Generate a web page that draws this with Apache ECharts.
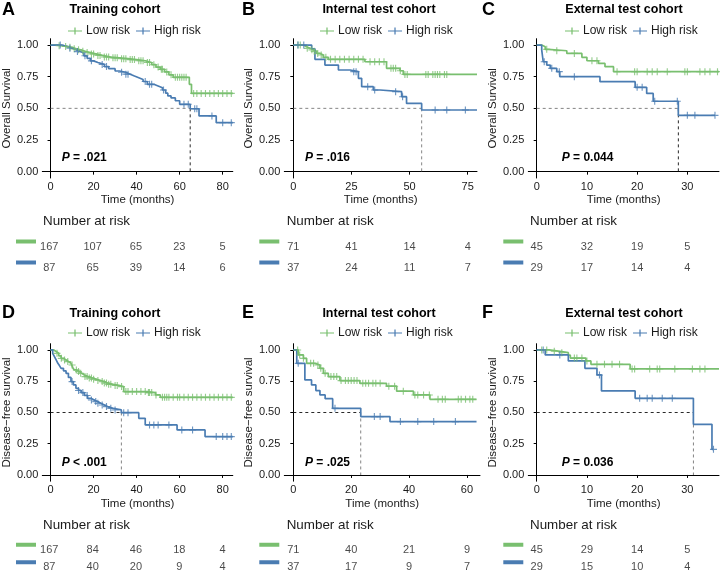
<!DOCTYPE html>
<html>
<head>
<meta charset="utf-8">
<script src="https://cdn.jsdelivr.net/npm/echarts@6/dist/echarts.min.js"></script>
<style>
  html, body { margin: 0; padding: 0; background: #fff; }
  #chart { width: 720px; height: 576px; }
</style>
</head>
<body>
<div id="chart"></div>
<script>
// ---- A: training cohort, overall survival ----
const tLowA = [0, 3, 6, 8, 10, 12, 14, 16, 18, 21, 24, 28, 32, 36, 40, 44, 47, 49, 51, 53, 55, 57, 64.5, 65.5, 84.7];
const sLowA = [1, 0.994, 0.988, 0.982, 0.970, 0.963, 0.951, 0.942, 0.930, 0.918, 0.905, 0.899, 0.892, 0.885, 0.876, 0.862, 0.845, 0.826, 0.808, 0.788, 0.765, 0.745, 0.69, 0.618, 0.618];
const cLowA = [4, 7, 9, 11, 13, 15, 17, 19, 20, 22, 23, 25, 26, 27, 29, 30, 31, 33, 34, 35, 37, 38, 39, 41, 42, 43, 45, 46, 48, 50, 51.5, 52, 54, 56, 58, 59, 60, 61, 62, 63, 66.5, 68, 70, 72, 74, 76, 78, 80, 82, 84];
const tHighA = [0, 5, 8, 10, 12, 14, 15.5, 17, 18.5, 20, 22, 25, 27, 30, 32, 35, 37, 39, 41, 43, 45, 48, 50, 52, 53.5, 54.5, 56, 58, 60, 64.9, 69, 77, 84.7];
const sHighA = [1, 0.988, 0.975, 0.962, 0.948, 0.935, 0.915, 0.895, 0.875, 0.862, 0.847, 0.83, 0.813, 0.795, 0.785, 0.77, 0.755, 0.742, 0.728, 0.712, 0.69, 0.676, 0.662, 0.645, 0.62, 0.598, 0.582, 0.56, 0.532, 0.497, 0.44, 0.387, 0.387];
const cHighA = [4.5, 9, 12.5, 16, 19, 24, 26, 33, 35, 36, 44, 46, 47, 52.5, 62, 64, 67, 68, 75, 80, 84];
const riskTA = [0, 20, 40, 60, 80];
const riskLowA = [167, 107, 65, 23, 5];
const riskHighA = [87, 65, 39, 14, 6];

// ---- B: internal test cohort, overall survival ----
const tLowB = [0, 4.3, 5.7, 7.2, 8.6, 10, 11.5, 12.9, 15, 30.8, 40.1, 45.9, 47.3, 79];
const sLowB = [1, 0.987, 0.974, 0.962, 0.95, 0.934, 0.921, 0.903, 0.887, 0.868, 0.816, 0.797, 0.768, 0.768];
const cLowB = [2, 3, 6, 8, 9, 10.5, 12, 14, 16, 18, 20, 22, 24, 26, 28, 30, 33, 35, 37, 39, 42, 43, 44, 46, 48, 49, 57, 58, 60, 61, 62, 63, 65, 66];
const tHighB = [0, 7.9, 9.3, 13.6, 19.4, 24.4, 28, 29.4, 34.4, 37.3, 46.6, 48.7, 55.2, 79];
const sHighB = [1, 0.97, 0.887, 0.842, 0.803, 0.79, 0.737, 0.671, 0.645, 0.632, 0.592, 0.539, 0.487, 0.487];
const cHighB = [2, 4.5, 26, 27, 32, 35, 44, 47, 61, 66, 74];
const riskTB = [0, 25, 50, 75];
const riskLowB = [71, 41, 14, 4];
const riskHighB = [37, 24, 11, 7];

// ---- C: external test cohort, overall survival ----
const tLowC = [0, 1, 1.7, 2.3, 6, 9, 10, 12.3, 13.6, 15.3, 36.3];
const sLowC = [1, 0.987, 0.966, 0.955, 0.934, 0.903, 0.876, 0.855, 0.829, 0.79, 0.79];
const cLowC = [2, 4, 7.5, 11, 12, 16, 19.5, 20, 22, 23, 24, 26, 29.5, 30, 32.5, 33.5, 34.5, 36];
const tHighC = [0, 1, 1.3, 2, 2.7, 4, 4.6, 12.6, 19.6, 21.9, 23.2, 28.2, 35.5];
const sHighC = [1, 0.961, 0.868, 0.842, 0.816, 0.79, 0.75, 0.711, 0.666, 0.618, 0.556, 0.445, 0.445];
const cHighC = [1.5, 3, 4.5, 7.5, 20, 21, 23.5, 28, 30, 31.5, 35.5];
const riskTC = [0, 10, 20, 30];
const riskLowC = [45, 32, 19, 5];
const riskHighC = [29, 17, 14, 4];

// ---- D: training cohort, disease-free survival ----
const tLowD = [0, 1.5, 2.6, 3.8, 4.9, 6, 7.2, 8.3, 9.5, 10.3, 11, 12.2, 13.4, 14.5, 15.7, 17.5, 19.5, 21.5, 23.4, 25, 26.5, 29, 31.8, 34, 45, 48.8, 51, 84.7];
const sLowD = [1, 0.987, 0.973, 0.953, 0.933, 0.92, 0.907, 0.893, 0.88, 0.86, 0.84, 0.827, 0.813, 0.8, 0.787, 0.776, 0.765, 0.756, 0.747, 0.736, 0.725, 0.716, 0.707, 0.667, 0.659, 0.64, 0.621, 0.621];
const cLowD = [3, 5, 6.5, 8, 10, 12, 13, 14, 16, 17, 18, 19, 20, 22, 24, 25, 26, 27, 28, 30, 31, 33, 35, 36, 38, 40, 42, 44, 45.5, 46, 47, 49, 52, 53, 54, 55, 57, 59, 60, 62, 64, 66, 68, 70, 72, 74, 76, 78, 80, 82, 84];
const tHighD = [0, 1, 1.8, 2.6, 3.4, 4.2, 4.9, 6, 7.2, 8.3, 9.5, 10.6, 11.8, 13, 14.2, 15.7, 17.2, 18.8, 20.3, 21.8, 23.4, 25, 26.5, 29, 32.9, 41, 44, 58.8, 71.8, 84.7];
const sHighD = [1, 0.973, 0.947, 0.92, 0.893, 0.873, 0.853, 0.833, 0.813, 0.78, 0.747, 0.72, 0.693, 0.676, 0.659, 0.636, 0.613, 0.6, 0.587, 0.573, 0.56, 0.547, 0.533, 0.52, 0.498, 0.453, 0.4, 0.36, 0.307, 0.307];
const cHighD = [10, 13, 15, 17, 19, 21, 22, 24, 26, 28, 30, 34, 36, 46, 48, 50, 55, 61, 66, 77, 80, 82, 84];
const riskTD = [0, 20, 40, 60, 80];
const riskLowD = [167, 84, 46, 18, 4];
const riskHighD = [87, 40, 20, 9, 4];

// ---- E: internal test cohort, disease-free survival ----
const tLowE = [0, 1.7, 3.5, 4.6, 7.5, 9.2, 10.4, 12.1, 16.1, 23, 32.2, 35.7, 41.5, 47.2, 63.3];
const sLowE = [1, 0.96, 0.933, 0.893, 0.88, 0.853, 0.813, 0.787, 0.755, 0.733, 0.71, 0.67, 0.64, 0.605, 0.605];
const cLowE = [1.5, 2.2, 3.5, 6, 7, 8.5, 9.5, 11, 13, 14, 15, 16.5, 18, 19, 20, 21, 22, 24, 25, 26, 27.5, 28.5, 30, 33, 35, 38, 42, 43, 45, 47, 50, 51.5, 52.5, 57, 58, 59.5, 61, 62];
const tHighE = [0, 1.2, 4, 6.3, 7.8, 9.2, 11, 13.6, 23.3, 33.4, 63.3];
const sHighE = [1, 0.893, 0.76, 0.72, 0.675, 0.64, 0.61, 0.533, 0.467, 0.427, 0.427];
const cHighE = [1.7, 14.4, 28, 30, 37, 43, 48.5, 56];
const riskTE = [0, 20, 40, 60];
const riskLowE = [71, 40, 21, 9];
const riskHighE = [37, 17, 9, 7];

// ---- F: external test cohort, disease-free survival ----
const tLowF = [0, 2.5, 4.3, 6.3, 6.7, 9.8, 10.8, 18.6, 36.3];
const sLowF = [1, 0.99, 0.978, 0.958, 0.935, 0.912, 0.885, 0.848, 0.848];
const cLowF = [1, 2, 3.5, 5, 7.5, 8, 9, 10, 12, 13.5, 15, 16.5, 19, 19.5, 22.5, 24, 24.5, 27.5, 31, 32.5, 33.5];
const tHighF = [0, 1.7, 6.3, 9.6, 12, 12.9, 19.6, 31.2, 34.9, 35.2];
const sHighF = [1, 0.96, 0.912, 0.853, 0.8, 0.672, 0.613, 0.405, 0.205, 0.205];
const cHighF = [1.3, 4.6, 12.5, 20.5, 22, 23, 25, 27, 35.2];
const riskTF = [0, 10, 20, 30];
const riskLowF = [45, 29, 14, 5];
const riskHighF = [29, 15, 10, 4];

// median survival of the high-risk group and p-values
const medians = [64.9, 55.2, 28.2, 32.9, 23.3, 31.2];
const pTexts = ['= .021', '= .016', '= 0.044', '< .001', '= .025', '= 0.036'];
const letters = ['A', 'B', 'C', 'D', 'E', 'F'];
const cohorts = ['Training cohort', 'Internal test cohort', 'External test cohort',
                 'Training cohort', 'Internal test cohort', 'External test cohort'];
const yNames = ['Overall Survival', 'Overall Survival', 'Overall Survival',
                'Disease\u2212free survival', 'Disease\u2212free survival', 'Disease\u2212free survival'];
const yTicks = [0, 0.25, 0.5, 0.75, 1];

const panels = [
  {tLow: tLowA, sLow: sLowA, cLow: cLowA, tHigh: tHighA, sHigh: sHighA, cHigh: cHighA, riskT: riskTA, riskLow: riskLowA, riskHigh: riskHighA},
  {tLow: tLowB, sLow: sLowB, cLow: cLowB, tHigh: tHighB, sHigh: sHighB, cHigh: cHighB, riskT: riskTB, riskLow: riskLowB, riskHigh: riskHighB},
  {tLow: tLowC, sLow: sLowC, cLow: cLowC, tHigh: tHighC, sHigh: sHighC, cHigh: cHighC, riskT: riskTC, riskLow: riskLowC, riskHigh: riskHighC},
  {tLow: tLowD, sLow: sLowD, cLow: cLowD, tHigh: tHighD, sHigh: sHighD, cHigh: cHighD, riskT: riskTD, riskLow: riskLowD, riskHigh: riskHighD},
  {tLow: tLowE, sLow: sLowE, cLow: cLowE, tHigh: tHighE, sHigh: sHighE, cHigh: cHighE, riskT: riskTE, riskLow: riskLowE, riskHigh: riskHighE},
  {tLow: tLowF, sLow: sLowF, cLow: cLowF, tHigh: tHighF, sHigh: sHighF, cHigh: cHighF, riskT: riskTF, riskLow: riskLowF, riskHigh: riskHighF}
];

// ---- layout (pixels) ----
const GREEN = '#79BF6F';
const BLUE = '#4A7CB2';
const FONT = '"Liberation Sans", Arial, Helvetica, sans-serif';
const INK = '#1a1a1a';
const cols = [
  {left: 41, width: 191.8, xmin: -3.83, xmax: 84.7, colX: 0},
  {left: 284.3, width: 192.7, xmin: -3.87, xmax: 79.0, colX: 240},
  {left: 528.3, width: 190.7, xmin: -1.67, xmax: 36.3, colX: 480}
];
const colsBottom = [
  {left: 41, width: 191.8, xmin: -3.83, xmax: 84.7, colX: 0},
  {left: 284.3, width: 195.7, xmin: -3.11, xmax: 64.5, colX: 240},
  {left: 528.3, width: 190.7, xmin: -1.67, xmax: 36.3, colX: 480}
];
const rows = [
  {top: 38.7, height: 139.3, titleY: 10, legendTop: 25, riskTop: 236, riskH: 42, nrY: 221.7, pY: 158, nameGap: 16},
  {top: 343.7, height: 137.5, titleY: 313.3, legendTop: 327, riskTop: 541, riskH: 40, nrY: 525.7, pY: 462.7, nameGap: 17}
];
const titleCX = [115, 379, 624];
const legendX = [68, 320, 565];
const pX = [61.7, 305, 561.7];
const nrX = [43, 286.7, 530];
const hColor = ['#777', '#777', '#777', '#111', '#111', '#111'];
const vColor = ['#111', '#777', '#111', '#777', '#777', '#777'];

const PLUS = 'path://M4.2,0H5.8V4.2H10V5.8H5.8V10H4.2V5.8H0V4.2H4.2Z';
const LEG_ICON = 'path://M0,4.3H16V5.7H0Z M7.3,1H8.7V9H7.3Z';

function survAt(t, s, x) {
  let v = s[0];
  for (let i = 0; i < t.length; i++) if (t[i] <= x) v = s[i];
  return v;
}

const grid = [], xAxis = [], yAxis = [], series = [], legend = [], graphic = [];

panels.forEach((p, i) => {
  const r = rows[Math.floor(i / 3)];
  const c = (i < 3 ? cols : colsBottom)[i % 3];
  const ci = i % 3;
  const axisLine = {show: true, lineStyle: {color: '#000', width: 1}};
  // plot grid (index i), risk table grid (index 6 + i)
  grid[i] = {left: c.left, top: r.top, width: c.width, height: r.height, containLabel: false};
  grid[6 + i] = {left: c.left, top: r.riskTop, width: c.width, height: r.riskH, containLabel: false};

  xAxis[i] = {
    type: 'value', gridIndex: i, min: c.xmin, max: c.xmax,
    axisLine: axisLine,
    axisTick: {show: true, length: 3, lineStyle: {color: '#000'}, customValues: p.riskT},
    axisLabel: {color: INK, fontSize: 11, fontFamily: FONT, margin: 3, customValues: p.riskT},
    splitLine: {show: false},
    name: 'Time (months)', nameLocation: 'middle', nameGap: r.nameGap,
    nameTextStyle: {color: INK, fontSize: 11.5, fontFamily: FONT}
  };
  yAxis[i] = {
    type: 'value', gridIndex: i, min: -0.05, max: 1.05,
    axisLine: axisLine,
    axisTick: {show: true, length: 3, lineStyle: {color: '#000'}, customValues: yTicks},
    axisLabel: {color: INK, fontSize: 11, fontFamily: FONT, margin: 4, customValues: yTicks,
                formatter: v => v.toFixed(2)},
    splitLine: {show: false},
    name: yNames[i], nameLocation: 'middle', nameRotate: 90, nameGap: 22,
    nameTextStyle: {color: INK, fontSize: 11.5, fontFamily: FONT}
  };
  xAxis[6 + i] = {type: 'value', gridIndex: 6 + i, min: c.xmin, max: c.xmax, show: false};
  yAxis[6 + i] = {
    type: 'category', gridIndex: 6 + i, data: ['High risk', 'Low risk'],
    axisLine: {show: false}, axisTick: {show: false}, splitLine: {show: false},
    axisLabel: {
      margin: 5, padding: [0, 0, 10, 0],
      formatter: v => v === 'Low risk' ? '{g| }' : '{b| }',
      rich: {
        g: {width: 20, height: 4, lineHeight: 4, fontSize: 2, backgroundColor: GREEN},
        b: {width: 20, height: 4, lineHeight: 4, fontSize: 2, backgroundColor: BLUE}
      }
    }
  };

  // median reference lines
  series.push({
    type: 'line', xAxisIndex: i, yAxisIndex: i, silent: true, showSymbol: false, z: 1,
    data: [[0, 0.5], [medians[i], 0.5]],
    lineStyle: {color: hColor[i], width: 0.9, type: [3, 3]}
  });
  series.push({
    type: 'line', xAxisIndex: i, yAxisIndex: i, silent: true, showSymbol: false, z: 1,
    data: [[medians[i], 0.5], [medians[i], 0]],
    lineStyle: {color: vColor[i], width: 0.9, type: [3, 3]}
  });

  // survival curves with censor marks
  [['Low risk', p.tLow, p.sLow, p.cLow, GREEN], ['High risk', p.tHigh, p.sHigh, p.cHigh, BLUE]]
    .forEach(([name, t, s, cens, color]) => {
      series.push({
        name: name, type: 'line', step: 'end', xAxisIndex: i, yAxisIndex: i,
        showSymbol: false, z: 3, silent: true,
        data: t.map((x, k) => [x, s[k]]),
        lineStyle: {color: color, width: 1.7},
        itemStyle: {color: color}
      });
      series.push({
        name: name + ' censored', type: 'scatter', xAxisIndex: i, yAxisIndex: i, z: 4, silent: true,
        symbol: PLUS, symbolSize: 7,
        data: cens.map(x => [x, survAt(t, s, x)]),
        itemStyle: {color: color}
      });
    });

  // number at risk table
  [['Low risk', p.riskLow], ['High risk', p.riskHigh]].forEach(([cat, vals]) => {
    series.push({
      type: 'scatter', xAxisIndex: 6 + i, yAxisIndex: 6 + i, silent: true,
      symbolSize: 1, itemStyle: {color: 'rgba(0,0,0,0)'},
      data: p.riskT.map((x, k) => [x, cat, vals[k]]),
      label: {show: true, position: 'inside', formatter: q => q.value[2],
              color: INK, fontSize: 11, fontFamily: FONT}
    });
  });

  legend.push({
    left: legendX[ci], top: r.legendTop, padding: 0, itemGap: 6,
    itemWidth: 14, itemHeight: 8, selectedMode: false,
    textStyle: {color: INK, fontSize: 12, fontFamily: FONT, padding: [0, 0, 0, -1]},
    data: [{name: 'Low risk', icon: LEG_ICON}, {name: 'High risk', icon: LEG_ICON}]
  });

  graphic.push({type: 'text', x: c.colX + 2, y: r.titleY, silent: true,
    style: {text: letters[i], fill: '#000', font: 'bold 18px ' + FONT, textAlign: 'left', textVerticalAlign: 'middle'}});
  graphic.push({type: 'text', x: titleCX[ci], y: r.titleY, silent: true,
    style: {text: cohorts[i], fill: '#000', font: 'bold 12.5px ' + FONT, textAlign: 'center', textVerticalAlign: 'middle'}});
  graphic.push({type: 'text', x: pX[ci], y: r.pY, silent: true,
    style: {text: '{i|P}{n| ' + pTexts[i] + '}', textAlign: 'left', textVerticalAlign: 'middle',
      rich: {
        i: {fontStyle: 'italic', fontWeight: 'bold', fontSize: 12, fontFamily: FONT, fill: '#000'},
        n: {fontWeight: 'bold', fontSize: 12, fontFamily: FONT, fill: '#000'}
      }}});
  graphic.push({type: 'text', x: nrX[ci], y: r.nrY, silent: true,
    style: {text: 'Number at risk', fill: INK, font: '13.4px ' + FONT, textAlign: 'left', textVerticalAlign: 'middle'}});
});

const chart = echarts.init(document.getElementById('chart'), null, {renderer: 'canvas'});
chart.setOption({
  animation: false,
  backgroundColor: '#fff',
  textStyle: {fontFamily: FONT},
  tooltip: {show: false},
  grid: grid,
  xAxis: xAxis,
  yAxis: yAxis,
  legend: legend,
  graphic: graphic,
  series: series
});
</script>
</body>
</html>
